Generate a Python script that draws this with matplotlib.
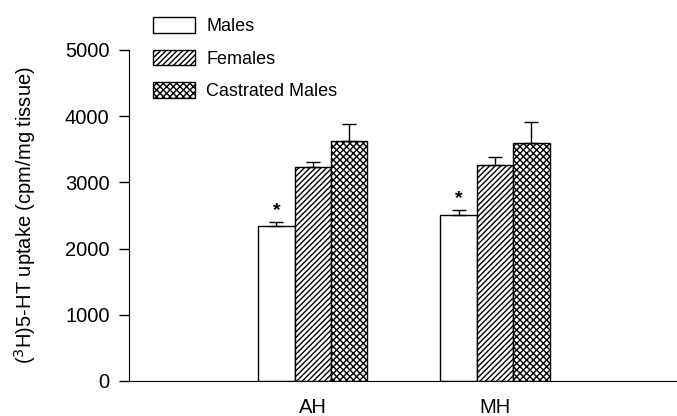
import matplotlib
matplotlib.use("Agg")
import matplotlib.pyplot as plt
import numpy as np

plt.rcParams['font.family'] = ['Liberation Sans', 'DejaVu Sans']
plt.rcParams['hatch.linewidth'] = 1.0

regions = ["AH", "MH"]
series = ["Males", "Females", "Castrated Males"]
values = {
    "Males": [2345, 2500],
    "Females": [3230, 3270],
    "Castrated Males": [3630, 3590],
}
errors = {
    "Males": [55, 80],
    "Females": [85, 110],
    "Castrated Males": [250, 320],
}
hatches = {"Males": "", "Females": "//////", "Castrated Males": "xxxxx"}
significant = {"Males": [True, True], "Females": [False, False], "Castrated Males": [False, False]}
yticks = [0, 1000, 2000, 3000, 4000, 5000]

fig = plt.figure(figsize=(6.77, 4.16), dpi=100)
ax = fig.add_axes([129/677, 1-381/416, 1-129/677, (381-50)/416])

x = np.arange(len(regions))
w = 0.2
for i, s in enumerate(series):
    pos = x + (i - 1) * w
    ax.bar(pos, values[s], w, color="white", edgecolor="black", hatch=hatches[s],
           linewidth=1.0, label=s, zorder=2)
    ax.errorbar(pos, values[s], yerr=[np.zeros(len(regions)), errors[s]], fmt="none",
                ecolor="black", elinewidth=1.0, capsize=5, capthick=1.0, zorder=3)
    for j, sig in enumerate(significant[s]):
        if sig:
            ax.text(pos[j], values[s][j] + errors[s][j] + 170, "*", ha="center", va="center",
                    fontsize=14, fontweight="bold")

ax.set_xlim(-1.01, 2.0)
ax.set_ylim(0, 5000)
ax.set_yticks(yticks)
ax.set_yticklabels([str(t) for t in yticks], fontsize=14.5)
ax.set_xticks(x)
ax.set_xticklabels(regions, fontsize=14.5)
ax.tick_params(axis="x", length=0, pad=12)
ax.tick_params(axis="y", length=7, width=1, direction="out", pad=7)
ax.spines["top"].set_visible(False)
ax.spines["right"].set_visible(False)
ax.set_ylabel("($^3$H)5-HT uptake (cpm/mg tissue)", fontsize=14.5)
ax.yaxis.set_label_coords((38 - 129) / (677 - 129), 0.5)

leg = fig.legend(loc="upper left", bbox_to_anchor=(146/677, 1-10/416), frameon=False,
                 fontsize=13, handlelength=2.33, handleheight=0.95, labelspacing=0.8,
                 handletextpad=0.6, borderaxespad=0)

fig.savefig("out.png", dpi=100)
